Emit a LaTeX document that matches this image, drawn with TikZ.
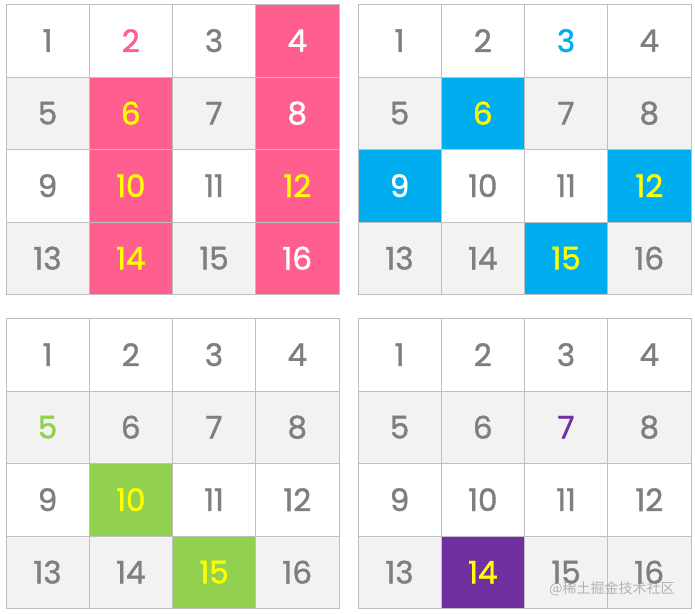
\documentclass[tikz,border=0pt]{standalone}
\usepackage{fontspec}
\setmainfont{Poppins}
\newfontfamily\digf{Poppins}[FakeBold=1.3]
\newfontfamily\cjk{Noto Sans CJK SC}
\definecolor{bd}{HTML}{BFBFBF}
\definecolor{lg}{HTML}{F2F2F2}
\definecolor{tg}{HTML}{7F7F7F}
\definecolor{pk}{HTML}{FF5F8F}
\definecolor{bl}{HTML}{00AEEF}
\definecolor{gn}{HTML}{92D050}
\definecolor{pu}{HTML}{7030A0}
\definecolor{yl}{HTML}{FFFF00}
\definecolor{wt}{HTML}{FFFFFF}
\tikzset{
  cell/.style={draw=bd, line width=0.8pt, minimum width=83.25pt, minimum height=72.5pt,
    inner sep=0pt, font=\digf\fontsize{31}{31}\selectfont, anchor=north west}
}
\newcommand\placecells[4]{% #1 x0, #2 y0, #3 prefix, #4 list
  \foreach \n/\f/\t in {#4}{
    \pgfmathtruncatemacro\cc{mod(\n-1,4)}
    \pgfmathtruncatemacro\rr{int((\n-1)/4)}
    \node[cell, fill=\f, text=\t] (#3-\n) at ({#1+\cc*83.25pt},{-#2-\rr*72.5pt}) {\n};
  }
}
\begin{document}
\begin{tikzpicture}[x=1pt,y=1pt]
\useasboundingbox (0,0) rectangle (695,-613);
\placecells{5.5pt}{4pt}{a}{1/wt/tg,2/wt/pk,3/wt/tg,4/pk/wt,5/lg/tg,6/pk/yl,7/lg/tg,8/pk/wt,9/wt/tg,10/pk/yl,11/wt/tg,12/pk/yl,13/lg/tg,14/pk/yl,15/lg/tg,16/pk/wt}
\placecells{357.5pt}{4pt}{b}{1/wt/tg,2/wt/tg,3/wt/bl,4/wt/tg,5/lg/tg,6/bl/yl,7/lg/tg,8/lg/tg,9/bl/wt,10/wt/tg,11/wt/tg,12/bl/yl,13/lg/tg,14/lg/tg,15/bl/yl,16/lg/tg}
\placecells{5.5pt}{318pt}{c}{1/wt/tg,2/wt/tg,3/wt/tg,4/wt/tg,5/lg/gn,6/lg/tg,7/lg/tg,8/lg/tg,9/wt/tg,10/gn/yl,11/wt/tg,12/wt/tg,13/lg/tg,14/lg/tg,15/gn/yl,16/lg/tg}
\placecells{357.5pt}{318pt}{d}{1/wt/tg,2/wt/tg,3/wt/tg,4/wt/tg,5/lg/tg,6/lg/tg,7/lg/pu,8/lg/tg,9/wt/tg,10/wt/tg,11/wt/tg,12/wt/tg,13/lg/tg,14/pu/yl,15/lg/tg,16/lg/tg}
\node[text=gray, opacity=0.55, font=\cjk\fontsize{14}{14}\selectfont, inner sep=0pt] (wm) at (612,-589) {@稀土掘金技术社区};
\end{tikzpicture}
\end{document}
